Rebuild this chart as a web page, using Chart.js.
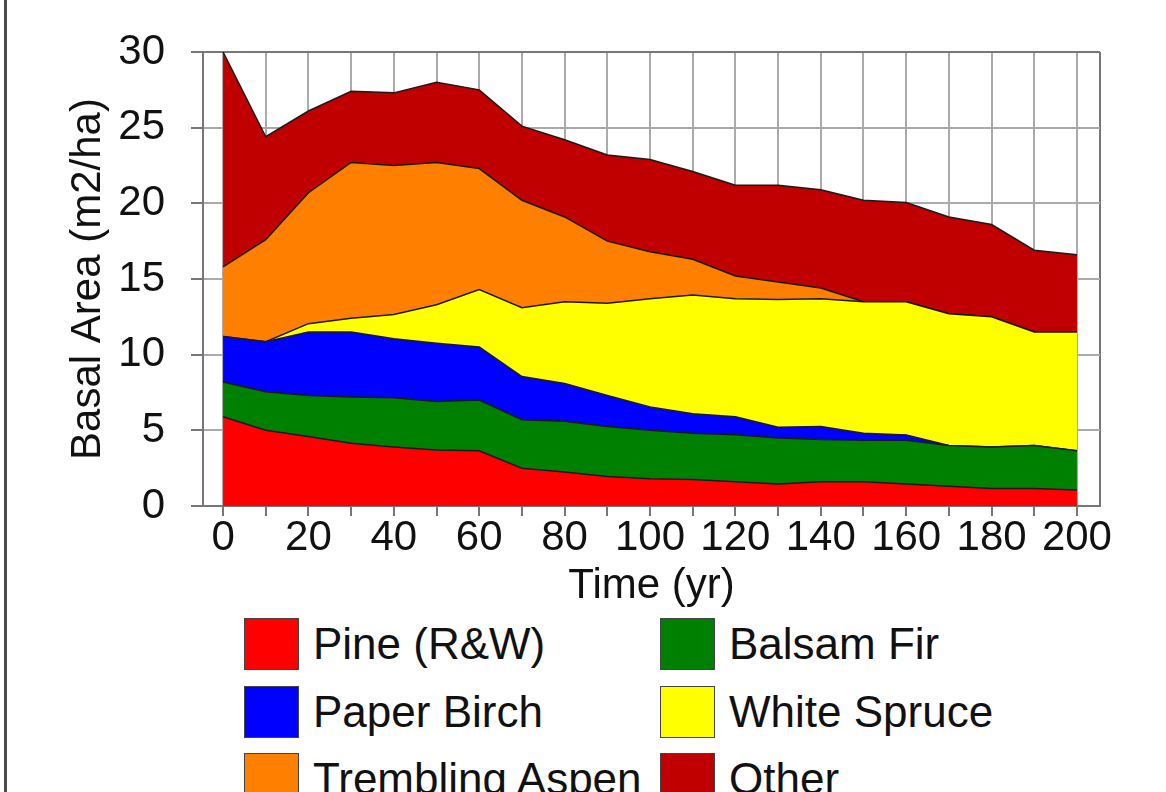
<!DOCTYPE html>
<html>
<head>
<meta charset="utf-8">
<script src="https://cdn.jsdelivr.net/npm/chart.js@4.4.0/dist/chart.umd.min.js"></script>
<style>
  body { margin: 0; background: #fff; width: 1166px; height: 792px; overflow: hidden; position: relative;
         font-family: 'Liberation Sans', Arial, sans-serif; }
  #edge { position: absolute; left: 4px; top: 0; width: 3px; height: 792px; background: #4a4a4a; }
  #myChart { position: absolute; left: 0; top: 0; }
  .item { position: absolute; height: 52px; display: flex; align-items: center; font-size: 44px; color: #111; white-space: nowrap; }
  .item .box { width: 53px; height: 50px; border: 1px solid #444; margin-right: 14px; }
</style>
</head>
<body>
<div id="edge"></div>
<canvas id="myChart" width="1166" height="612"></canvas>
<div id="legend"></div>
<script>
// time axis (yr)
const years = [0, 10, 20, 30, 40, 50, 60, 70, 80, 90, 100, 110, 120, 130, 140, 150, 160, 170, 180, 190, 200];

// basal area per species (m2/ha)
const pine        = [5.9, 5.0, 4.6, 4.15, 3.9, 3.7, 3.65, 2.5, 2.25, 1.95, 1.8, 1.75, 1.6, 1.45, 1.6, 1.6, 1.45, 1.3, 1.15, 1.15, 1.05];
const balsamFir   = [2.3, 2.55, 2.7, 3.05, 3.25, 3.2, 3.35, 3.2, 3.35, 3.3, 3.2, 3.05, 3.1, 3.05, 2.8, 2.75, 2.9, 2.7, 2.75, 2.85, 2.6];
const paperBirch  = [3.0, 3.3, 4.2, 4.3, 3.9, 3.85, 3.5, 2.85, 2.5, 2.05, 1.55, 1.3, 1.2, 0.7, 0.85, 0.45, 0.35, 0, 0, 0, 0];
const whiteSpruce = [0, 0, 0.55, 0.9, 1.6, 2.55, 3.8, 4.55, 5.4, 6.1, 7.15, 7.85, 7.8, 8.45, 8.45, 8.7, 8.8, 8.7, 8.6, 7.5, 7.85];
const aspen       = [4.6, 6.75, 8.65, 10.3, 9.85, 9.4, 8.0, 7.1, 5.6, 4.1, 3.1, 2.35, 1.5, 1.15, 0.7, 0, 0, 0, 0, 0, 0];
const other       = [14.2, 6.8, 5.4, 4.7, 4.8, 5.3, 5.2, 4.9, 5.1, 5.7, 6.1, 5.8, 6.0, 6.4, 6.5, 6.7, 6.55, 6.4, 6.1, 5.4, 5.1];

const seriesNames = ['Pine (R&W)', 'Balsam Fir', 'Paper Birch', 'White Spruce', 'Trembling Aspen', 'Other'];
const seriesColors = ['#ff0000', '#008000', '#0000ff', '#ffff00', '#ff8000', '#c00000'];
const seriesValues = [pine, balsamFir, paperBirch, whiteSpruce, aspen, other];

// axis ranges / tick labels
const xMin = -4.7, xMax = 205.4;
const xLabels = [0, 20, 40, 60, 80, 100, 120, 140, 160, 180, 200];
const yLabels = [0, 5, 10, 15, 20, 25, 30];

const font = "'Liberation Sans', Arial, sans-serif";
const isBound = (v) => v === xMin || v === xMax;

const datasets = seriesValues.map((vals, i) => ({
  label: seriesNames[i],
  data: years.map((t, j) => ({ x: t, y: vals[j] })),
  backgroundColor: seriesColors[i],
  borderColor: '#1a1a1a',
  borderWidth: 1.5,
  pointRadius: 0,
  tension: 0,
  fill: i === 0 ? 'origin' : '-1'
}));

const ctx = document.getElementById('myChart');

const myChart = new Chart(ctx, {
  type: 'line',
  data: { datasets: datasets },
  options: {
    responsive: false,
    animation: false,
    devicePixelRatio: 1,
    layout: { padding: { top: 52, right: 66, left: 0, bottom: 0 } },
    plugins: {
      legend: { display: false },
      tooltip: { enabled: false }
    },
    scales: {
      x: {
        type: 'linear',
        min: xMin,
        max: xMax,
        afterBuildTicks: (s) => { s.ticks = [xMin, ...years, xMax].map(v => ({ value: v })); },
        afterFit: (s) => { s.height = 106; },
        grid: {
          color: (c) => (c.tick && c.tick.value === xMax) ? '#777' : '#aaaaaa',
          lineWidth: 2,
          tickLength: 10,
          tickColor: (c) => (c.tick && isBound(c.tick.value)) ? 'rgba(0,0,0,0)' : '#777'
        },
        border: { color: '#777', width: 2 },
        ticks: {
          autoSkip: false,
          maxRotation: 0,
          padding: 1,
          color: '#111',
          font: { family: font, size: 42, lineHeight: 1 },
          callback: (v) => xLabels.includes(v) ? String(v) : ''
        },
        title: {
          display: true,
          text: 'Time (yr)',
          color: '#111',
          font: { family: font, size: 42, lineHeight: 1.2 },
          padding: { top: 0, bottom: 0 }
        }
      },
      y: {
        stacked: true,
        min: 0,
        max: 30,
        afterFit: (s) => { s.width = 203; },
        grid: {
          color: (c) => (c.tick && c.tick.value === 30) ? '#777' : '#aaaaaa',
          lineWidth: 2,
          tickLength: 12,
          tickColor: '#777'
        },
        border: { color: '#777', width: 2 },
        ticks: {
          stepSize: 2.5,
          padding: 26,
          color: '#111',
          font: { family: font, size: 42, lineHeight: 1 },
          callback: (v) => yLabels.includes(v) ? String(v) : ''
        },
        title: {
          display: true,
          text: 'Basal Area (m2/ha)',
          color: '#111',
          font: { family: font, size: 42, lineHeight: 1.2 },
          padding: { top: 63, bottom: 0 }
        }
      }
    }
  }
});

// two-column legend under the chart, built from the chart's own legend items
const legendItems = Chart.defaults.plugins.legend.labels.generateLabels(myChart);
const colLeft = [244, 660];
const rowTop = [618, 686, 753];
const legendBox = document.getElementById('legend');
legendItems.forEach((item, i) => {
  const el = document.createElement('div');
  el.className = 'item';
  el.style.left = colLeft[i % 2] + 'px';
  el.style.top = rowTop[Math.floor(i / 2)] + 'px';
  const box = document.createElement('span');
  box.className = 'box';
  box.style.background = item.fillStyle;
  const txt = document.createElement('span');
  txt.textContent = item.text;
  el.appendChild(box);
  el.appendChild(txt);
  legendBox.appendChild(el);
});
</script>
</body>
</html>
